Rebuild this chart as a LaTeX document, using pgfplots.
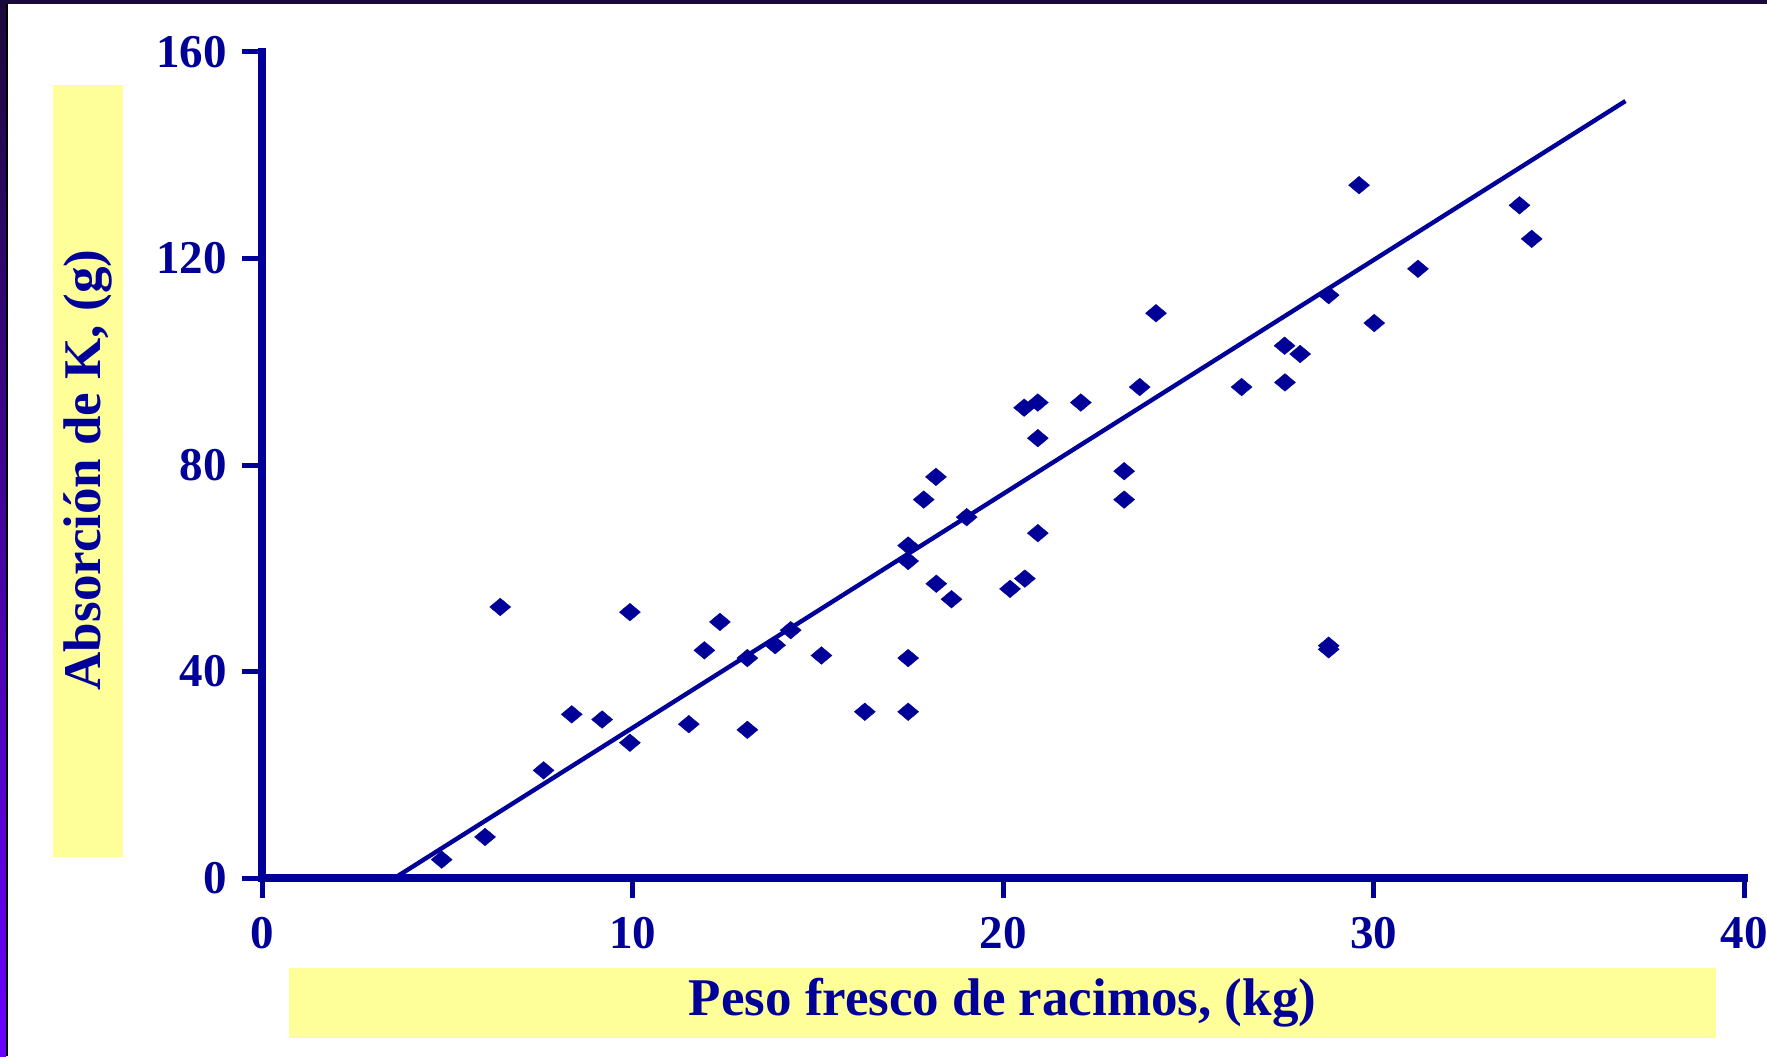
\documentclass[border=0pt]{standalone}
\usepackage{pgfplots}
\pgfplotsset{compat=1.18}
\usepackage{fontspec}
\setmainfont{Liberation Serif}

\definecolor{navy}{HTML}{000099}
\definecolor{paleyellow}{HTML}{FFFF99}
\definecolor{framedark}{HTML}{1A0A3A}
\definecolor{framepurple}{HTML}{6A00FF}

\begin{document}
\begin{tikzpicture}[x=0.5pt,y=0.5pt]
% slide canvas, 1767 x 1056 units
\useasboundingbox (0,0) rectangle (1767,1056);
\fill[white] (0,0) rectangle (1767,1056);
\shade[top color=framedark, bottom color=framepurple] (0,0) rectangle (6,1056);
\fill[black] (6,0) rectangle (8,1056);
\fill[framedark] (0,1052) rectangle (1767,1056);

% highlighted axis titles
\fill[paleyellow] (53,199) rectangle (123,971);
\fill[paleyellow] (289,18) rectangle (1716,88);
\node[rotate=90, text=navy, inner sep=0pt,
      font=\fontsize{26.5}{30}\selectfont\bfseries] at (88,586) {Absorción de K, (g)};
\node[text=navy, inner sep=0pt,
      font=\fontsize{26.5}{30}\selectfont\bfseries] at (1002.5,53) {Peso fresco de racimos, (kg)};

\begin{axis}[
  at={(131pt,89pt)}, anchor=south west,
  scale only axis, width=741pt, height=413pt,
  xmin=0, xmax=40, ymin=0, ymax=160,
  axis x line=bottom, axis y line=left,
  axis line style={-, line width=3.9pt, navy, line cap=rect},
  xtick={0,10,20,30,40}, ytick={0,40,80,120,160},
  minor tick num=0,
  tick align=outside, major tick length=10pt,
  tick style={navy, line width=2.5pt},
  ticklabel style={text=navy, font=\fontsize{23.5}{28}\selectfont\bfseries},
  xticklabel style={yshift=-6pt},
  yticklabel style={xshift=-4pt},
  /pgf/number format/assume math mode=true,
  clip=false,
]
% fitted line
\addplot[navy, line width=2.2pt] coordinates {(3.58,0) (36.80,150.5)};
% observations
\addplot[only marks, mark=diamond*, mark size=4.4pt,
  mark options={xscale=1.59, fill=navy, draw=navy, line width=0.2pt}]
coordinates {
(4.85,3.56) (6.02,7.95) (6.43,52.5) (7.60,20.85) (8.36,31.7)
(9.18,30.7) (9.93,26.2) (9.93,51.5) (11.52,29.8) (11.94,44.1)
(12.36,49.6) (13.10,42.6) (13.10,28.7) (13.85,45.1) (14.27,48.0)
(15.10,43.1) (16.27,32.2) (17.44,32.2) (17.44,42.6) (17.44,61.4)
(17.44,64.4) (17.86,73.3) (18.19,77.7) (18.20,57.0) (18.61,54.0)
(19.02,69.9) (20.19,56.0) (20.59,58.0) (20.57,91.1) (20.94,92.1)
(20.94,85.2) (20.94,66.8) (22.10,92.1) (23.27,78.8) (23.27,73.3)
(23.69,95.1) (24.13,109.4) (26.44,95.1) (27.60,103.1) (27.61,96.0)
(28.02,101.5) (28.79,45.0) (28.79,44.3) (28.79,112.9) (29.61,134.2)
(30.02,107.5) (31.20,118.0) (33.94,130.3) (34.27,123.8)
};
\end{axis}
\end{tikzpicture}
\end{document}
